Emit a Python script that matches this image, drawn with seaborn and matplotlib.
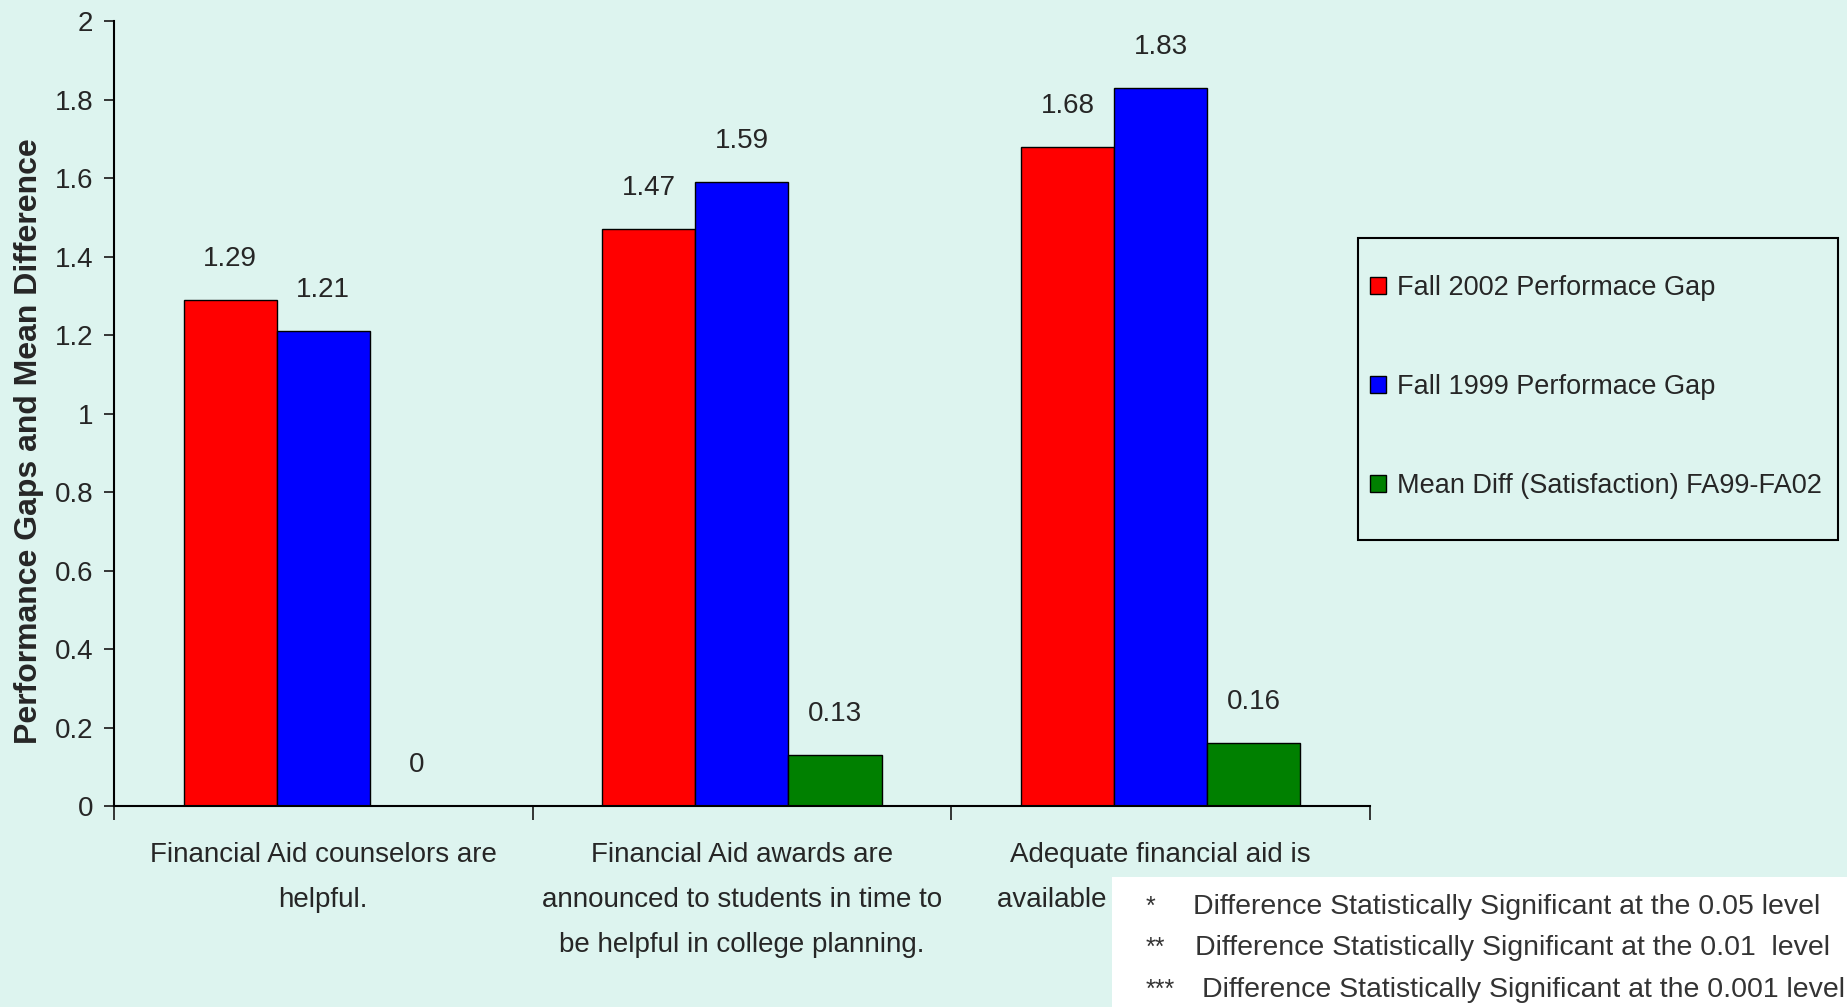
import matplotlib
matplotlib.use('Agg')
import matplotlib.pyplot as plt
from matplotlib.patches import Rectangle
from matplotlib.ticker import FixedLocator, MultipleLocator, FuncFormatter
import seaborn as sns
import pandas as pd

CATEGORIES = [
    'Financial Aid counselors are\nhelpful.',
    'Financial Aid awards are\nannounced to students in time to\nbe helpful in college planning.',
    'Adequate financial aid is\navailable to most students.',
]
SERIES = [
    'Fall 2002 Performace Gap',
    'Fall 1999 Performace Gap',
    'Mean Diff (Satisfaction) FA99-FA02',
]
FALL_2002 = [1.29, 1.47, 1.68]
FALL_1999 = [1.21, 1.59, 1.83]
MEAN_DIFF = [0.0, 0.13, 0.16]
COLORS = ['#ff0000', '#0000ff', '#008000']
NOTE_MARKS = ['*', '**', '***']
NOTE_TEXT = [
    'Difference Statistically Significant at the 0.05 level',
    'Difference Statistically Significant at the 0.01  level',
    'Difference Statistically Significant at the 0.001 level',
]

BG = '#ddf4ef'
FONT = ['Liberation Sans', 'DejaVu Sans']

df = pd.DataFrame({
    'item': CATEGORIES * 3,
    'series': [s for s in SERIES for _ in CATEGORIES],
    'value': FALL_2002 + FALL_1999 + MEAN_DIFF,
})

sns.set_style('ticks')
plt.rcParams['font.family'] = FONT

fig = plt.figure(figsize=(18.47, 10.07), dpi=100, facecolor=BG)
ax = fig.add_axes([0.0617, 0.1996, 0.68, 0.7794], facecolor=BG)

sns.barplot(data=df, x='item', y='value', hue='series', order=CATEGORIES,
            hue_order=SERIES, palette=COLORS, width=0.667, saturation=1,
            edgecolor='black', linewidth=1, errorbar=None, ax=ax)

for c in ax.containers:
    ax.bar_label(c, labels=[f'{v:g}' for v in c.datavalues], padding=20,
                 fontsize=20)

ax.set_xlim(-0.5, 2.5)
ax.set_ylim(0, 2)
ax.yaxis.set_major_locator(MultipleLocator(0.2))
ax.yaxis.set_major_formatter(FuncFormatter(lambda v, _: f'{round(v, 1):g}'))
ax.tick_params(axis='y', labelsize=20, length=7, width=1.3, direction='out', pad=8)
ax.tick_params(axis='x', which='major', length=0, pad=26)
ax.xaxis.set_minor_locator(FixedLocator([-0.5, 0.5, 1.5, 2.5]))
ax.tick_params(axis='x', which='minor', length=10, width=1.3, direction='out')
for lbl in ax.get_xticklabels():
    lbl.set_fontsize(20)
    lbl.set_linespacing(1.95)

ax.set_xlabel('')
ax.set_ylabel('Performance Gaps and Mean Difference', fontsize=23,
              fontweight='bold')
ax.yaxis.set_label_coords(-0.056, 0.465)
sns.despine(ax=ax)
for side in ['left', 'bottom']:
    ax.spines[side].set_linewidth(1.5)
    ax.spines[side].set_color('black')

# legend: frame drawn separately so the box can be taller than its entries
handles, labels = ax.get_legend_handles_labels()
ax.get_legend().remove()
fig.add_artist(Rectangle((0.735, 0.464), 0.26, 0.30, transform=fig.transFigure,
                         facecolor='none', edgecolor='black', linewidth=1.5))
fig.legend(handles, labels, loc='center left', bbox_to_anchor=(0.7415, 0.6157),
           borderaxespad=0, borderpad=0, labelspacing=2.7,
           handlelength=0.6, handleheight=0.6, handletextpad=0.4,
           prop={'size': 19.5}, frameon=False)

# significance note box pasted over the lower right corner
fig.add_artist(Rectangle((0.602, 0), 0.398, 0.129, transform=fig.transFigure,
                         facecolor='white', edgecolor='none', zorder=10))
for mark, text, y, x in zip(NOTE_MARKS, NOTE_TEXT, [0.099, 0.059, 0.017],
                            [0.646, 0.647, 0.651]):
    fig.text(0.620, y, mark, fontsize=18, color='#333333',
             va='center', zorder=11)
    fig.text(x, y, text, fontsize=20.5, color='#333333',
             va='center', zorder=11)

fig.savefig('out.png', dpi=100, facecolor=BG)
